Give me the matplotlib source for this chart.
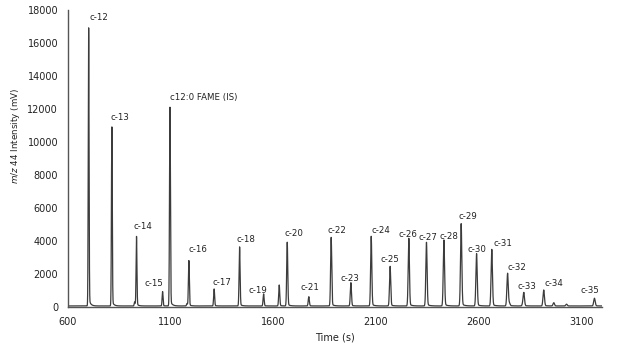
import numpy as np
import matplotlib
matplotlib.use('Agg')
import matplotlib.pyplot as plt

# labelled peaks: retention time (s), height (mV)
peak_names = ['c-12', 'c-13', 'c12:0 FAME (IS)', 'c-14', 'c-15', 'c-16', 'c-17',
              'c-18', 'c-19', 'c-20', 'c-21', 'c-22', 'c-23', 'c-24', 'c-25',
              'c-26', 'c-27', 'c-28', 'c-29', 'c-30', 'c-31', 'c-32', 'c-33',
              'c-34', 'c-35']
peak_times = [701, 814, 1097, 934, 1061, 1189, 1312, 1436, 1553, 1668, 1773,
              1882, 1978, 2077, 2169, 2260, 2346, 2431, 2515, 2590, 2664, 2741,
              2820, 2917, 3164]
peak_heights = [16850, 10870, 12040, 4220, 870, 2750, 1030, 3580, 730, 3860, 560,
                4160, 1410, 4220, 2400, 4100, 3860, 4000, 4990, 3170, 3430, 1980,
                790, 970, 470]

# small unlabelled peaks
minor_times = [925, 1180, 1629, 2750, 2815, 2966, 3028]
minor_heights = [250, 150, 1270, 150, 100, 200, 110]
baseline = 60

# label offsets in pixels (dx, dy) relative to the peak top
label_dx = [10, 8, 0, 6, -9, 9, 8, 6, -6, 7, 1, 6, -1, 10, 0, -1, 1, 5, 7, 0,
            11, 9, 3, 10, -4]
label_dy = [11, 10, 11, 11, 9, 12, 7, 8, 4, 10, 10, 8, 5, 7, 8, 5, 6, 4, 8, 5,
            7, 7, 7, 7, 9]


def peak(t, t0, h):
    s = 1.5 + t0 / 1500.0
    g = np.exp(-0.5 * ((t - t0) / s) ** 2)
    tail = np.where(t > t0, np.exp(-(t - t0) / (4 * s)), 0) * 0.03
    return h * (g * 0.97 + tail)


t = np.linspace(600, 3200, 20000)
y = np.full_like(t, baseline, dtype=float)
for t0, h in zip(peak_times + minor_times, peak_heights + minor_heights):
    y += peak(t, t0, h)

fig = plt.figure(figsize=(6.23, 3.52), dpi=100)
ax = fig.add_axes([0.109, 0.128, 0.857, 0.844])
ax.plot(t, y, color='#3c3c3c', linewidth=0.9)

for name, t0, h, dx, dy in zip(peak_names, peak_times, peak_heights, label_dx, label_dy):
    ha = 'left' if name.startswith('c12') else 'center'
    ax.annotate(name, (t0, h), xytext=(dx, dy), textcoords='offset pixels',
                ha=ha, va='center', fontsize=6.2, color='#222222')

ax.set_xlim(600, 3200)
ax.set_ylim(0, 18000)
ax.set_xticks([600, 1100, 1600, 2100, 2600, 3100])
ax.set_yticks(np.arange(0, 18001, 2000))
ax.tick_params(length=0, labelsize=7, pad=7, colors='#222222')
for side in ['top', 'right']:
    ax.spines[side].set_visible(False)
for side in ['left', 'bottom']:
    ax.spines[side].set_color('#555555')
    ax.spines[side].set_linewidth(1.0)

ax.set_xlabel('Time (s)', fontsize=7, labelpad=4, color='#222222')
ax.set_ylabel(r'$m/z$ 44 Intensity (mV)', fontsize=6.3, color='#222222')
ax.yaxis.set_label_coords(-0.086, 0.576)

fig.savefig('out.png', dpi=100)
